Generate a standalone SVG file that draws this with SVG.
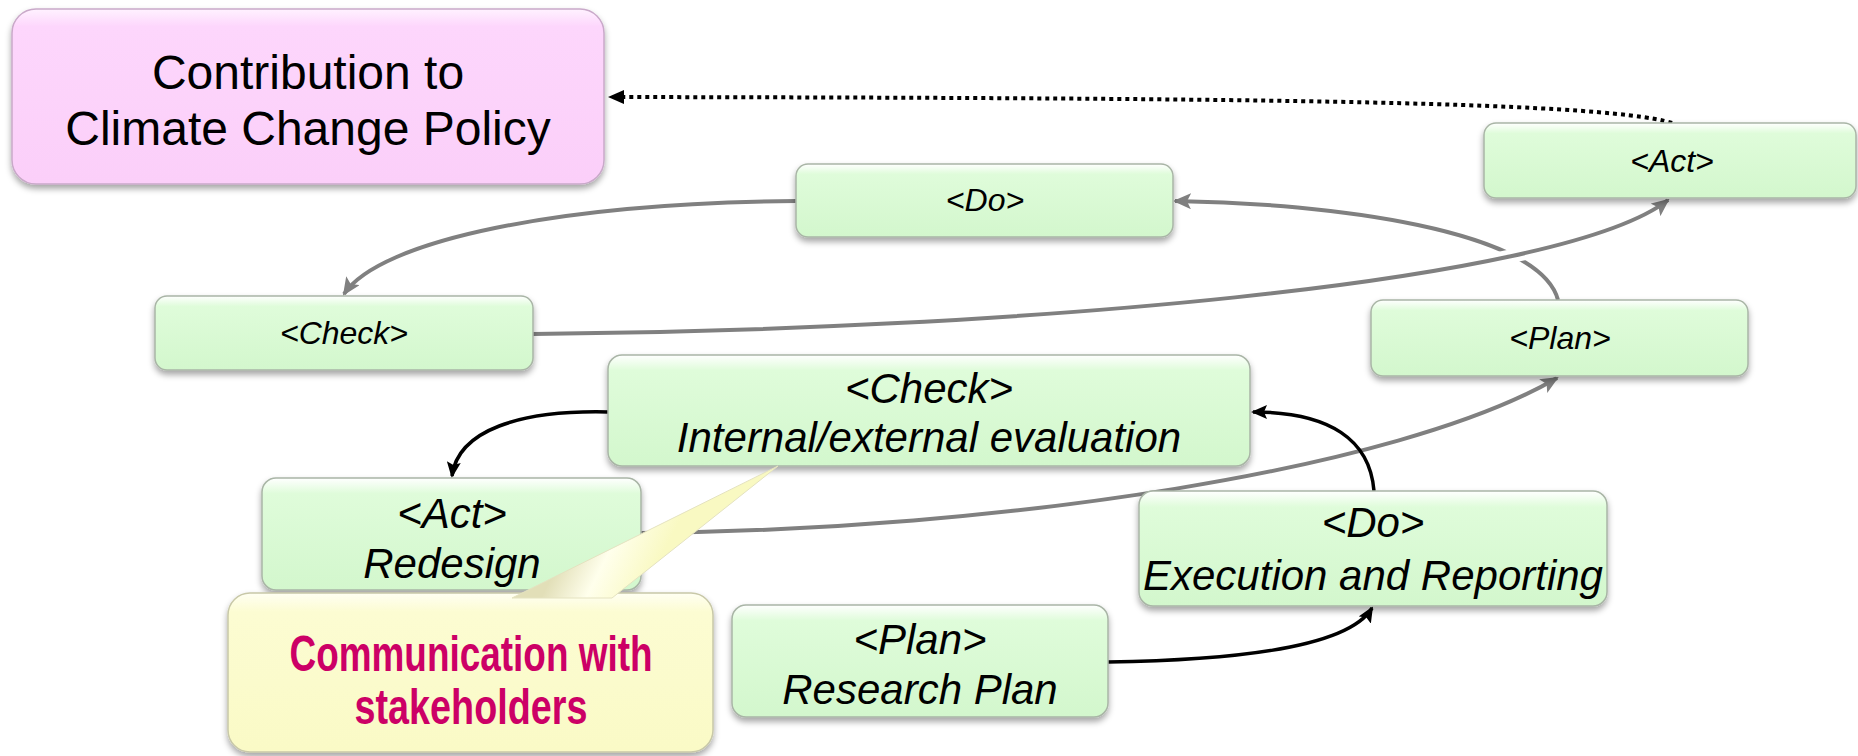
<svg xmlns="http://www.w3.org/2000/svg" width="1858" height="756" viewBox="0 0 1858 756">
<style>
  .t { font-family: "Liberation Sans", Arial, sans-serif; fill: #000; text-anchor: middle; }
  .it { font-style: italic; }
  .small { font-size: 32px; }
  .big { font-size: 42px; }
  .pink { font-size: 48px; }
  .comm { font-family: "Liberation Sans", Arial, sans-serif; font-weight: bold; font-size: 50px; fill: #CC0066; text-anchor: middle; }
  .g { fill: url(#gGreen); stroke: #A9B5A6; stroke-width: 1.5; filter: url(#sh); }
  .gl { fill: none; stroke: #808080; stroke-width: 4; }
  .bl { fill: none; stroke: #000; stroke-width: 3.5; }
</style>
<defs>
  <linearGradient id="gGreen" x1="0" y1="0" x2="0" y2="1">
    <stop offset="0" stop-color="#FFFFFF"/>
    <stop offset="0.14" stop-color="#DFFCDA"/>
    <stop offset="1" stop-color="#D3F7CD"/>
  </linearGradient>
  <linearGradient id="gPink" x1="0" y1="0" x2="0" y2="1">
    <stop offset="0" stop-color="#FFF2FF"/>
    <stop offset="0.1" stop-color="#FDD6FC"/>
    <stop offset="1" stop-color="#FBCFF9"/>
  </linearGradient>
  <linearGradient id="gYel" x1="0" y1="0" x2="0" y2="1">
    <stop offset="0" stop-color="#FFFFF2"/>
    <stop offset="0.12" stop-color="#FCFCD2"/>
    <stop offset="1" stop-color="#FAFAC6"/>
  </linearGradient>
  <linearGradient id="gTail" gradientUnits="userSpaceOnUse" x1="560" y1="560" x2="640" y2="600">
    <stop offset="0" stop-color="#E2DFB8"/>
    <stop offset="0.45" stop-color="#FFFFEC"/>
    <stop offset="1" stop-color="#F9F9C2"/>
  </linearGradient>
  <filter id="sh" x="-5%" y="-10%" width="110%" height="135%">
    <feDropShadow dx="0" dy="4" stdDeviation="3" flood-color="#000" flood-opacity="0.35"/>
  </filter>
  <marker id="ag" markerWidth="18" markerHeight="16" refX="16" refY="8" orient="auto" markerUnits="userSpaceOnUse">
    <path d="M0,0 L18,8 L0,16 L4,8 Z" fill="#808080"/>
  </marker>
  <marker id="ab" markerWidth="16" markerHeight="14" refX="14" refY="7" orient="auto" markerUnits="userSpaceOnUse">
    <path d="M0,0 L16,7 L0,14 L3,7 Z" fill="#000"/>
  </marker>
  <marker id="ad" markerWidth="16" markerHeight="14" refX="14" refY="7" orient="auto" markerUnits="userSpaceOnUse">
    <path d="M0,0 L16,7 L0,14 Z" fill="#000"/>
  </marker>
</defs>
<rect width="1858" height="756" fill="#FFFFFF"/>

<g id="connectors">
  <path d="M1672,123 C1600,100 1200,98 610,97" fill="none" stroke="#000" stroke-width="4" stroke-dasharray="4 4" marker-end="url(#ad)"/>
  <path class="gl" d="M796,201 C560,203 380,240 344,294" marker-end="url(#ag)"/>
  <path class="gl" d="M1558,300 C1540,230 1330,203 1175,201" marker-end="url(#ag)"/>
  <path d="M533,334 C1000,330 1560,285 1668,200" fill="none" stroke="#FFFFFF" stroke-width="14"/>
  <path class="gl" d="M533,334 C1000,330 1560,285 1668,200" marker-end="url(#ag)"/>
  <path class="gl" d="M641,533 C1000,530 1400,470 1557,378" marker-end="url(#ag)"/>
  <path class="bl" d="M608,412 C520,410 458,430 452,476" marker-end="url(#ab)"/>
  <path class="bl" d="M1374,491 C1370,440 1330,412 1253,412" marker-end="url(#ab)"/>
  <path class="bl" d="M1108,662 C1250,660 1350,645 1372,608" marker-end="url(#ab)"/>
</g>

<g id="policy">
  <rect x="12" y="9" width="592" height="175" rx="24" fill="url(#gPink)" stroke="#C9A9C9" stroke-width="1.5" filter="url(#sh)"/>
  <text class="t pink" x="308" y="89">Contribution to</text>
  <text class="t pink" x="308" y="145">Climate Change Policy</text>
</g>

<g id="act-top">
  <rect class="g" x="1484" y="123" width="372" height="75" rx="12"/>
  <text class="t it small" x="1672" y="172">&lt;Act&gt;</text>
</g>

<g id="do-top">
  <rect class="g" x="796" y="164" width="377" height="73" rx="12"/>
  <text class="t it small" x="985" y="211">&lt;Do&gt;</text>
</g>

<g id="check-top">
  <rect class="g" x="155" y="296" width="378" height="74" rx="12"/>
  <text class="t it small" x="344" y="344">&lt;Check&gt;</text>
</g>

<g id="plan-top">
  <rect class="g" x="1371" y="300" width="377" height="76" rx="12"/>
  <text class="t it small" x="1560" y="349">&lt;Plan&gt;</text>
</g>

<g id="check-main">
  <rect class="g" x="608" y="355" width="642" height="111" rx="14"/>
  <text class="t it big" x="929" y="403">&lt;Check&gt;</text>
  <text class="t it big" x="929" y="452">Internal/external evaluation</text>
</g>

<g id="act-main">
  <rect class="g" x="262" y="478" width="379" height="112" rx="14"/>
  <text class="t it big" x="452" y="528">&lt;Act&gt;</text>
  <text class="t it big" x="452" y="578">Redesign</text>
</g>

<g id="do-main">
  <rect class="g" x="1139" y="491" width="468" height="115" rx="14"/>
  <text class="t it big" x="1373" y="537">&lt;Do&gt;</text>
  <text class="t it big" x="1373" y="590">Execution and Reporting</text>
</g>

<g id="plan-main">
  <rect class="g" x="732" y="605" width="376" height="112" rx="14"/>
  <text class="t it big" x="920" y="654">&lt;Plan&gt;</text>
  <text class="t it big" x="920" y="704">Research Plan</text>
</g>

<g id="communication">
  <rect x="228" y="593" width="485" height="159" rx="22" fill="url(#gYel)" stroke="#C8C8A8" stroke-width="1.5" filter="url(#sh)"/>
  <path d="M778,466 L512,598 L612,598 Z" fill="url(#gTail)" stroke="#E4E2C0" stroke-width="1"/>
  <text class="comm" x="471" y="671" textLength="363" lengthAdjust="spacingAndGlyphs">Communication with</text>
  <text class="comm" x="471" y="724" textLength="233" lengthAdjust="spacingAndGlyphs">stakeholders</text>
</g>
</svg>
